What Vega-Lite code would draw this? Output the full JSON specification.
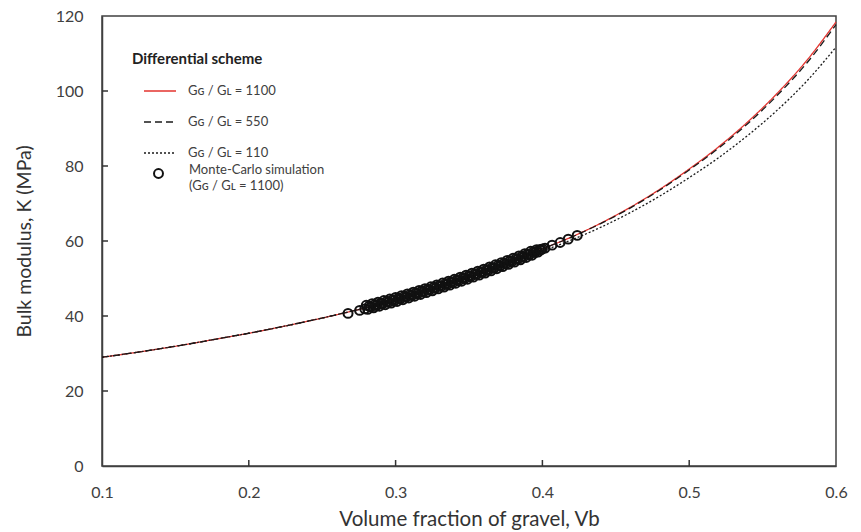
{
  "$schema": "https://vega.github.io/schema/vega-lite/v6.json",
  "width": 734,
  "height": 450,
  "autosize": {"type": "none"},
  "padding": {"left": 102, "top": 16, "right": 25, "bottom": 66},
  "background": "white",
  "config": {
    "font": "Lato",
    "view": {"stroke": "#404040", "strokeWidth": 1.5},
    "style": {"guide-label": {"lineHeight": 16}},
    "axis": {
      "domainColor": "#404040", "domainWidth": 1.5,
      "ticks": false, "grid": false,
      "labelFont": "Lato", "labelFontSize": 16, "labelColor": "#404040", "labelFlush": false,
      "titleFont": "Lato", "titleFontSize": 20.5, "titleFontWeight": "normal", "titleColor": "#333333"
    }
  },
  "datasets": {
    "curves": [
      {"V": 0.10, "K": 29.0, "series": "1100"}, {"V": 0.12, "K": 30.1, "series": "1100"}, {"V": 0.14, "K": 31.3, "series": "1100"},
      {"V": 0.16, "K": 32.6, "series": "1100"}, {"V": 0.18, "K": 34.0, "series": "1100"}, {"V": 0.20, "K": 35.4, "series": "1100"},
      {"V": 0.22, "K": 36.95, "series": "1100"}, {"V": 0.24, "K": 38.6, "series": "1100"}, {"V": 0.26, "K": 40.35, "series": "1100"},
      {"V": 0.28, "K": 42.25, "series": "1100"}, {"V": 0.30, "K": 44.35, "series": "1100"}, {"V": 0.32, "K": 46.7, "series": "1100"},
      {"V": 0.34, "K": 49.2, "series": "1100"}, {"V": 0.36, "K": 51.9, "series": "1100"}, {"V": 0.38, "K": 54.8, "series": "1100"},
      {"V": 0.40, "K": 57.9, "series": "1100"}, {"V": 0.42, "K": 61.1, "series": "1100"}, {"V": 0.44, "K": 64.8, "series": "1100"},
      {"V": 0.46, "K": 69.0, "series": "1100"}, {"V": 0.48, "K": 73.8, "series": "1100"}, {"V": 0.50, "K": 79.2, "series": "1100"},
      {"V": 0.52, "K": 85.1, "series": "1100"}, {"V": 0.54, "K": 91.8, "series": "1100"}, {"V": 0.56, "K": 99.4, "series": "1100"},
      {"V": 0.58, "K": 108.1, "series": "1100"}, {"V": 0.60, "K": 118.4, "series": "1100"},
      {"V": 0.10, "K": 29.0, "series": "550"}, {"V": 0.12, "K": 30.1, "series": "550"}, {"V": 0.14, "K": 31.3, "series": "550"},
      {"V": 0.16, "K": 32.6, "series": "550"}, {"V": 0.18, "K": 34.0, "series": "550"}, {"V": 0.20, "K": 35.4, "series": "550"},
      {"V": 0.22, "K": 36.95, "series": "550"}, {"V": 0.24, "K": 38.6, "series": "550"}, {"V": 0.26, "K": 40.35, "series": "550"},
      {"V": 0.28, "K": 42.25, "series": "550"}, {"V": 0.30, "K": 44.35, "series": "550"}, {"V": 0.32, "K": 46.7, "series": "550"},
      {"V": 0.34, "K": 49.2, "series": "550"}, {"V": 0.36, "K": 51.9, "series": "550"}, {"V": 0.38, "K": 54.8, "series": "550"},
      {"V": 0.40, "K": 57.9, "series": "550"}, {"V": 0.42, "K": 61.05, "series": "550"}, {"V": 0.44, "K": 64.7, "series": "550"},
      {"V": 0.46, "K": 68.85, "series": "550"}, {"V": 0.48, "K": 73.6, "series": "550"}, {"V": 0.50, "K": 78.95, "series": "550"},
      {"V": 0.52, "K": 84.75, "series": "550"}, {"V": 0.54, "K": 91.35, "series": "550"}, {"V": 0.56, "K": 98.85, "series": "550"},
      {"V": 0.58, "K": 107.4, "series": "550"}, {"V": 0.60, "K": 117.7, "series": "550"},
      {"V": 0.10, "K": 29.0, "series": "110"}, {"V": 0.12, "K": 30.1, "series": "110"}, {"V": 0.14, "K": 31.3, "series": "110"},
      {"V": 0.16, "K": 32.6, "series": "110"}, {"V": 0.18, "K": 34.0, "series": "110"}, {"V": 0.20, "K": 35.4, "series": "110"},
      {"V": 0.22, "K": 36.95, "series": "110"}, {"V": 0.24, "K": 38.6, "series": "110"}, {"V": 0.26, "K": 40.35, "series": "110"},
      {"V": 0.28, "K": 42.23, "series": "110"}, {"V": 0.30, "K": 44.3, "series": "110"}, {"V": 0.32, "K": 46.6, "series": "110"},
      {"V": 0.34, "K": 49.0, "series": "110"}, {"V": 0.36, "K": 51.6, "series": "110"}, {"V": 0.38, "K": 54.4, "series": "110"},
      {"V": 0.40, "K": 57.3, "series": "110"}, {"V": 0.42, "K": 60.3, "series": "110"}, {"V": 0.44, "K": 63.7, "series": "110"},
      {"V": 0.46, "K": 67.6, "series": "110"}, {"V": 0.48, "K": 72.0, "series": "110"}, {"V": 0.50, "K": 76.9, "series": "110"},
      {"V": 0.52, "K": 82.2, "series": "110"}, {"V": 0.54, "K": 88.2, "series": "110"}, {"V": 0.56, "K": 94.9, "series": "110"},
      {"V": 0.58, "K": 102.6, "series": "110"}, {"V": 0.60, "K": 111.7, "series": "110"}
    ],
    "mc": [
      {"V": 0.2676, "K": 40.7, "src": "mc"}, {"V": 0.2755, "K": 41.5, "src": "mc"}, {"V": 0.2790, "K": 41.9, "src": "mc"},
      {"V": 0.280, "K": 42.85, "src": "mc"}, {"V": 0.281, "K": 41.76, "src": "mc"}, {"V": 0.282, "K": 42.66, "src": "mc"}, {"V": 0.283, "K": 42.37, "src": "mc"},
      {"V": 0.284, "K": 43.27, "src": "mc"}, {"V": 0.285, "K": 42.18, "src": "mc"}, {"V": 0.286, "K": 43.08, "src": "mc"}, {"V": 0.287, "K": 42.79, "src": "mc"},
      {"V": 0.288, "K": 43.69, "src": "mc"}, {"V": 0.289, "K": 42.60, "src": "mc"}, {"V": 0.290, "K": 43.50, "src": "mc"}, {"V": 0.291, "K": 43.21, "src": "mc"},
      {"V": 0.292, "K": 44.11, "src": "mc"}, {"V": 0.293, "K": 43.02, "src": "mc"}, {"V": 0.294, "K": 43.92, "src": "mc"}, {"V": 0.295, "K": 43.63, "src": "mc"},
      {"V": 0.296, "K": 44.53, "src": "mc"}, {"V": 0.297, "K": 43.44, "src": "mc"}, {"V": 0.298, "K": 44.34, "src": "mc"}, {"V": 0.299, "K": 44.05, "src": "mc"},
      {"V": 0.300, "K": 44.95, "src": "mc"}, {"V": 0.301, "K": 43.87, "src": "mc"}, {"V": 0.302, "K": 44.79, "src": "mc"}, {"V": 0.303, "K": 44.50, "src": "mc"},
      {"V": 0.304, "K": 45.42, "src": "mc"}, {"V": 0.305, "K": 44.34, "src": "mc"}, {"V": 0.306, "K": 45.26, "src": "mc"}, {"V": 0.307, "K": 44.97, "src": "mc"},
      {"V": 0.308, "K": 45.89, "src": "mc"}, {"V": 0.309, "K": 44.81, "src": "mc"}, {"V": 0.310, "K": 45.73, "src": "mc"}, {"V": 0.311, "K": 45.44, "src": "mc"},
      {"V": 0.312, "K": 46.36, "src": "mc"}, {"V": 0.313, "K": 45.28, "src": "mc"}, {"V": 0.314, "K": 46.20, "src": "mc"}, {"V": 0.315, "K": 45.91, "src": "mc"},
      {"V": 0.316, "K": 46.83, "src": "mc"}, {"V": 0.317, "K": 45.75, "src": "mc"}, {"V": 0.318, "K": 46.67, "src": "mc"}, {"V": 0.319, "K": 46.38, "src": "mc"},
      {"V": 0.320, "K": 47.30, "src": "mc"}, {"V": 0.321, "K": 46.23, "src": "mc"}, {"V": 0.322, "K": 47.15, "src": "mc"}, {"V": 0.323, "K": 46.88, "src": "mc"},
      {"V": 0.324, "K": 47.80, "src": "mc"}, {"V": 0.325, "K": 46.73, "src": "mc"}, {"V": 0.326, "K": 47.65, "src": "mc"}, {"V": 0.327, "K": 47.38, "src": "mc"},
      {"V": 0.328, "K": 48.30, "src": "mc"}, {"V": 0.329, "K": 47.23, "src": "mc"}, {"V": 0.330, "K": 48.15, "src": "mc"}, {"V": 0.331, "K": 47.88, "src": "mc"},
      {"V": 0.332, "K": 48.80, "src": "mc"}, {"V": 0.333, "K": 47.73, "src": "mc"}, {"V": 0.334, "K": 48.65, "src": "mc"}, {"V": 0.335, "K": 48.38, "src": "mc"},
      {"V": 0.336, "K": 49.30, "src": "mc"}, {"V": 0.337, "K": 48.23, "src": "mc"}, {"V": 0.338, "K": 49.15, "src": "mc"}, {"V": 0.339, "K": 48.88, "src": "mc"},
      {"V": 0.340, "K": 49.80, "src": "mc"}, {"V": 0.341, "K": 48.74, "src": "mc"}, {"V": 0.342, "K": 49.67, "src": "mc"}, {"V": 0.343, "K": 49.41, "src": "mc"},
      {"V": 0.344, "K": 50.34, "src": "mc"}, {"V": 0.345, "K": 49.28, "src": "mc"}, {"V": 0.346, "K": 50.21, "src": "mc"}, {"V": 0.347, "K": 49.95, "src": "mc"},
      {"V": 0.348, "K": 50.88, "src": "mc"}, {"V": 0.349, "K": 49.82, "src": "mc"}, {"V": 0.350, "K": 50.75, "src": "mc"}, {"V": 0.351, "K": 50.49, "src": "mc"},
      {"V": 0.352, "K": 51.42, "src": "mc"}, {"V": 0.353, "K": 50.36, "src": "mc"}, {"V": 0.354, "K": 51.29, "src": "mc"}, {"V": 0.355, "K": 51.03, "src": "mc"},
      {"V": 0.356, "K": 51.96, "src": "mc"}, {"V": 0.357, "K": 50.90, "src": "mc"}, {"V": 0.358, "K": 51.83, "src": "mc"}, {"V": 0.359, "K": 51.57, "src": "mc"},
      {"V": 0.360, "K": 52.50, "src": "mc"}, {"V": 0.361, "K": 51.45, "src": "mc"}, {"V": 0.362, "K": 52.39, "src": "mc"}, {"V": 0.363, "K": 52.14, "src": "mc"},
      {"V": 0.364, "K": 53.08, "src": "mc"}, {"V": 0.365, "K": 52.03, "src": "mc"}, {"V": 0.366, "K": 52.97, "src": "mc"}, {"V": 0.367, "K": 52.72, "src": "mc"},
      {"V": 0.368, "K": 53.66, "src": "mc"}, {"V": 0.369, "K": 52.61, "src": "mc"}, {"V": 0.370, "K": 53.55, "src": "mc"}, {"V": 0.371, "K": 53.30, "src": "mc"},
      {"V": 0.372, "K": 54.24, "src": "mc"}, {"V": 0.373, "K": 53.19, "src": "mc"}, {"V": 0.374, "K": 54.13, "src": "mc"}, {"V": 0.375, "K": 53.88, "src": "mc"},
      {"V": 0.376, "K": 54.82, "src": "mc"}, {"V": 0.377, "K": 53.77, "src": "mc"}, {"V": 0.378, "K": 54.71, "src": "mc"}, {"V": 0.379, "K": 54.46, "src": "mc"},
      {"V": 0.380, "K": 55.40, "src": "mc"}, {"V": 0.381, "K": 54.36, "src": "mc"}, {"V": 0.382, "K": 55.31, "src": "mc"}, {"V": 0.383, "K": 55.07, "src": "mc"},
      {"V": 0.384, "K": 56.02, "src": "mc"}, {"V": 0.385, "K": 54.98, "src": "mc"}, {"V": 0.386, "K": 55.93, "src": "mc"}, {"V": 0.387, "K": 55.69, "src": "mc"},
      {"V": 0.388, "K": 56.64, "src": "mc"}, {"V": 0.389, "K": 55.60, "src": "mc"}, {"V": 0.390, "K": 56.55, "src": "mc"}, {"V": 0.391, "K": 56.31, "src": "mc"},
      {"V": 0.392, "K": 57.26, "src": "mc"}, {"V": 0.393, "K": 56.22, "src": "mc"}, {"V": 0.394, "K": 57.17, "src": "mc"}, {"V": 0.395, "K": 56.93, "src": "mc"},
      {"V": 0.396, "K": 57.68, "src": "mc"}, {"V": 0.397, "K": 57.04, "src": "mc"}, {"V": 0.398, "K": 57.69, "src": "mc"}, {"V": 0.399, "K": 57.65, "src": "mc"},
      {"V": 0.400, "K": 57.90, "src": "mc"}, {"V": 0.4018, "K": 58.1, "src": "mc"}, {"V": 0.4066, "K": 58.9, "src": "mc"},
      {"V": 0.4121, "K": 59.6, "src": "mc"}, {"V": 0.4176, "K": 60.5, "src": "mc"}, {"V": 0.4237, "K": 61.5, "src": "mc"}
    ],
    "xticks": [{"V": 0.2}, {"V": 0.3}, {"V": 0.4}, {"V": 0.5}],
    "yticks": [{"K": 20}, {"K": 40}, {"K": 60}, {"K": 80}, {"K": 100}]
  },
  "layer": [
    {
      "data": {"name": "xticks"},
      "mark": {"type": "rule", "color": "#333333", "strokeWidth": 1.5},
      "encoding": {
        "x": {"field": "V", "type": "quantitative"},
        "y": {"datum": 0, "type": "quantitative"},
        "y2": {"datum": 1.6}
      }
    },
    {
      "data": {"name": "yticks"},
      "mark": {"type": "rule", "color": "#333333", "strokeWidth": 1.5},
      "encoding": {
        "y": {"field": "K", "type": "quantitative"},
        "x": {"datum": 0.1, "type": "quantitative"},
        "x2": {"datum": 0.1041}
      }
    },
    {
      "data": {"name": "curves"},
      "mark": {"type": "line", "strokeWidth": 1.3, "interpolate": "monotone"},
      "encoding": {
        "x": {
          "field": "V", "type": "quantitative",
          "scale": {"domain": [0.1, 0.6], "nice": false, "zero": false},
          "axis": {"values": [0.1, 0.2, 0.3, 0.4, 0.5, 0.6], "format": ".1f", "title": "Volume fraction of gravel, Vb", "labelPadding": 18, "titlePadding": 9}
        },
        "y": {
          "field": "K", "type": "quantitative",
          "scale": {"domain": [0, 120], "nice": false},
          "axis": {"values": [0, 20, 40, 60, 80, 100, 120], "title": "Bulk modulus, K (MPa)", "labelPadding": 19, "titlePadding": 21, "titleFontSize": 19.5}
        },
        "color": {
          "field": "series", "type": "nominal",
          "scale": {"domain": ["1100", "550", "110"], "range": ["#e3342f", "#1a1a1a", "#1a1a1a"]},
          "legend": {
            "title": "Differential scheme", "orient": "none", "legendX": 30, "legendY": 36, "padding": 0,
            "titleFont": "Lato", "titleFontSize": 15, "titleFontWeight": "bold", "titleColor": "#222222", "titlePadding": 7,
            "symbolType": "stroke", "symbolSize": 1024, "symbolStrokeWidth": 1.3, "symbolOffset": 11,
            "labelOffset": 11, "labelFont": "Lato", "labelFontSize": 13, "labelColor": "#404040", "rowPadding": 7,
            "labelExpr": "'Gɢ / Gʟ = ' + datum.label"
          }
        },
        "strokeDash": {
          "field": "series", "type": "nominal",
          "scale": {"domain": ["1100", "550", "110"], "range": [[1, 0], [7, 4], [2, 2]]},
          "legend": {
            "title": "Differential scheme", "orient": "none", "legendX": 30, "legendY": 36, "padding": 0,
            "titleFont": "Lato", "titleFontSize": 15, "titleFontWeight": "bold", "titleColor": "#222222", "titlePadding": 7,
            "symbolType": "stroke", "symbolSize": 1024, "symbolStrokeWidth": 1.3, "symbolOffset": 11,
            "labelOffset": 11, "labelFont": "Lato", "labelFontSize": 13, "labelColor": "#404040", "rowPadding": 7,
            "labelExpr": "'Gɢ / Gʟ = ' + datum.label"
          }
        }
      }
    },
    {
      "data": {"name": "mc"},
      "mark": {"type": "point", "filled": false, "stroke": "#111111", "strokeWidth": 2, "size": 80, "opacity": 1},
      "encoding": {
        "x": {"field": "V", "type": "quantitative"},
        "y": {"field": "K", "type": "quantitative"},
        "shape": {
          "field": "src", "type": "nominal",
          "scale": {"domain": ["mc"], "range": ["circle"]},
          "legend": {
            "title": null, "orient": "none", "legendX": 50, "legendY": 151, "padding": 0,
            "symbolType": "circle", "symbolSize": 80, "symbolStrokeColor": "#111111", "symbolFillColor": "transparent", "symbolStrokeWidth": 2,
            "labelOffset": 24, "labelFont": "Lato", "labelFontSize": 13, "labelColor": "#404040", "labelBaseline": "alphabetic",
            "labelExpr": "['Monte-Carlo simulation', '(Gɢ / Gʟ = 1100)']"
          }
        }
      }
    }
  ]
}
